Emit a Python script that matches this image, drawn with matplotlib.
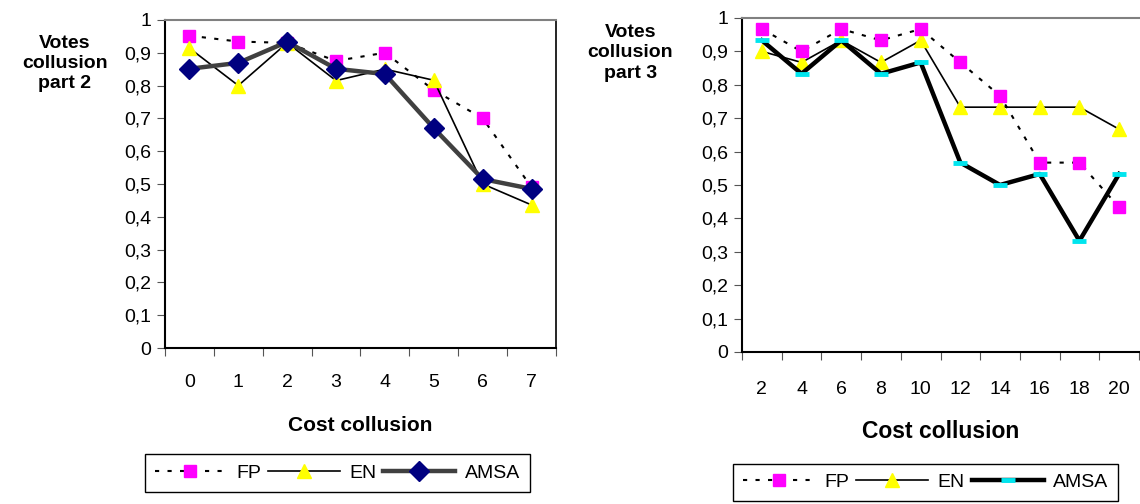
import matplotlib
matplotlib.use("Agg")
import matplotlib.pyplot as plt
from matplotlib.ticker import FixedLocator, FuncFormatter

plt.rcParams['font.family'] = ['Liberation Sans', 'DejaVu Sans']

# part 2 data
cost2 = ["0", "1", "2", "3", "4", "5", "6", "7"]
fp2 = [0.952, 0.934, 0.93, 0.875, 0.90, 0.786, 0.70, 0.49]
en2 = [0.914, 0.80, 0.93, 0.815, 0.85, 0.816, 0.50, 0.436]
amsa2 = [0.851, 0.869, 0.933, 0.851, 0.835, 0.67, 0.515, 0.485]

# part 3 data
cost3 = ["2", "4", "6", "8", "10", "12", "14", "16", "18", "20"]
fp3 = [0.967, 0.90, 0.967, 0.933, 0.967, 0.867, 0.767, 0.567, 0.567, 0.433]
en3 = [0.90, 0.867, 0.933, 0.867, 0.933, 0.733, 0.733, 0.733, 0.733, 0.667]
amsa3 = [0.933, 0.833, 0.933, 0.833, 0.867, 0.567, 0.50, 0.533, 0.333, 0.533]

yticks = [i / 10 for i in range(11)]


def comma(v, pos):
    s = "%g" % round(v, 1)
    return s.replace(".", ",")


def style_axes(ax, labels, xfont, xpad, lpad):
    n = len(labels)
    ax.set_xlim(-0.5, n - 0.5)
    ax.set_ylim(0, 1)
    ax.xaxis.set_major_locator(FixedLocator([i - 0.5 for i in range(n + 1)]))
    ax.xaxis.set_major_formatter(FuncFormatter(lambda v, p: ""))
    ax.xaxis.set_minor_locator(FixedLocator(list(range(n))))
    ax.set_xticklabels(labels, minor=True)
    ax.tick_params(axis='x', which='minor', length=0, labelsize=14, pad=xpad)
    ax.tick_params(axis='x', which='major', length=6, direction='out',
                   color='#555555')
    ax.yaxis.set_major_locator(FixedLocator(yticks))
    ax.yaxis.set_major_formatter(FuncFormatter(comma))
    ax.tick_params(axis='y', length=6, direction='out', labelsize=14,
                   color='#555555', pad=4)
    ax.spines['top'].set_color('#808080')
    ax.spines['top'].set_linewidth(1.5)
    ax.spines['left'].set_linewidth(1.5)
    ax.spines['bottom'].set_linewidth(1.5)
    ax.spines['right'].set_linewidth(1.2)
    ax.set_xlabel("Cost collusion", fontsize=xfont, fontweight='bold',
                  labelpad=lpad)


def add_legend(ax, handles, labels, pos):
    ax.legend(handles, labels, loc='center', bbox_to_anchor=pos,
              bbox_transform=fig.transFigure, ncol=3, fontsize=14,
              handlelength=3.7, columnspacing=0.35, handletextpad=0.5,
              fancybox=False, edgecolor='black', framealpha=1,
              borderpad=0.5, borderaxespad=0)


fig = plt.figure(figsize=(11.4, 5.04), dpi=100)

# left chart
ax1 = fig.add_axes([0.1447, 0.3095, 0.343, 0.651])
x2 = list(range(len(cost2)))
ax1.plot(x2, fp2, linestyle=(0, (2, 4)), color='black', lw=1.5,
         marker='s', ms=8, mfc='#ff00ff', mec='#ff00ff', label='FP', zorder=3)
ax1.plot(x2, en2, color='black', lw=1.2, marker='^', ms=10,
         mfc='#ffff00', mec='#ffff00', label='EN', zorder=4)
ax1.plot(x2, amsa2, color='#404040', lw=3.2, marker='D', ms=10.5,
         mfc='#000080', mec='#000080', label='AMSA', zorder=5)
style_axes(ax1, cost2, 15, 19, 18)
fig.text(0.057, 0.874, "Votes\ncollusion\npart 2", ha='center', va='center',
         fontsize=14, fontweight='bold', linespacing=1.2)
h, l = ax1.get_legend_handles_labels()
add_legend(ax1, h, l, (0.296, 0.0615))

# right chart
ax2 = fig.add_axes([0.6509, 0.3016, 0.3482, 0.6627])
x3 = list(range(len(cost3)))
ax2.plot(x3, en3, color='black', lw=1.2, marker='^', ms=10,
         mfc='#ffff00', mec='#ffff00', label='EN', zorder=3)
ax2.plot(x3, amsa3, color='black', lw=3.2, marker='_', ms=10, mew=3.5,
         mec='#00e5ee', label='AMSA', zorder=4)
ax2.plot(x3, fp3, linestyle=(0, (2, 4)), color='black', lw=1.5,
         marker='s', ms=8, mfc='#ff00ff', mec='#ff00ff', label='FP', zorder=5)
style_axes(ax2, cost3, 16.5, 21, 16)
ax2.spines['right'].set_visible(False)
fig.text(0.553, 0.895, "Votes\ncollusion\npart 3", ha='center', va='center',
         fontsize=14, fontweight='bold', linespacing=1.3)
h, l = ax2.get_legend_handles_labels()
order = [2, 0, 1]
add_legend(ax2, [h[i] for i in order], [l[i] for i in order],
           (0.812, 0.0427))

fig.savefig("out.png", dpi=100)
